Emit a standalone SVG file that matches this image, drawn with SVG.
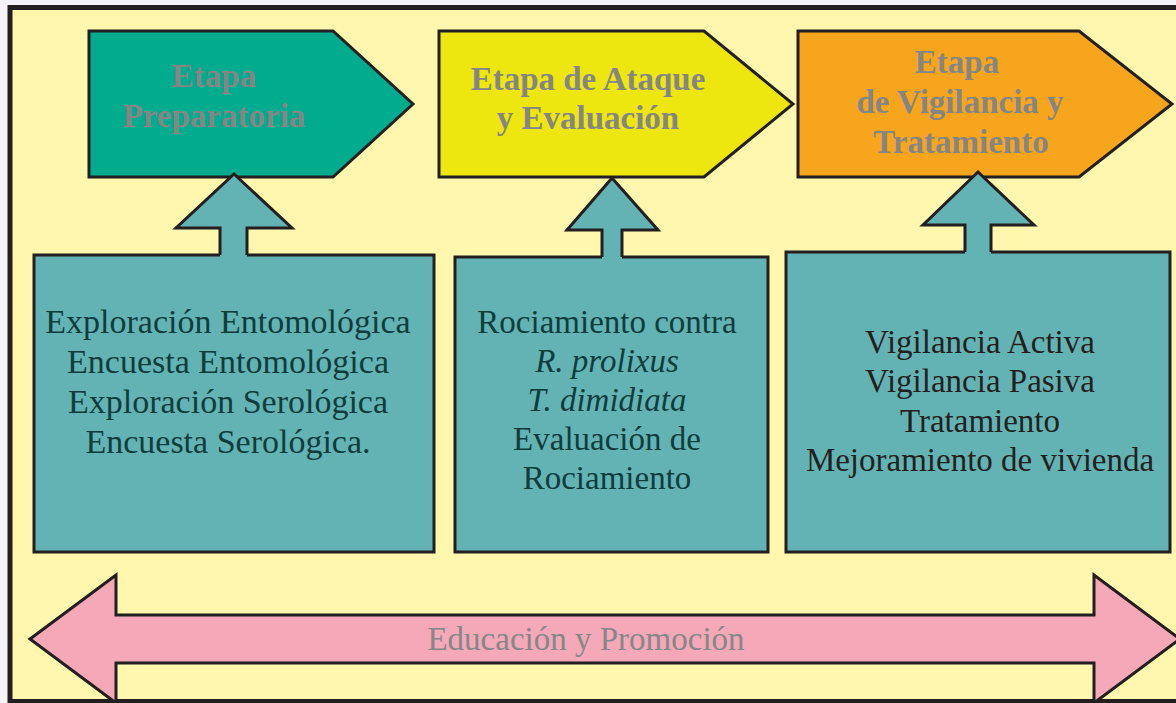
<svg xmlns="http://www.w3.org/2000/svg" width="1176" height="703" viewBox="0 0 1176 703">
<style>
.ln{stroke:#231f20;stroke-width:3;stroke-linejoin:miter}
.title{font-family:"Liberation Serif","Times New Roman",serif;font-weight:bold;font-size:33px;fill:#858585;text-anchor:middle}
.body{font-family:"Liberation Serif","Times New Roman",serif;font-size:33px;fill:#0f3d3c;text-anchor:middle}
.b1{font-size:34px}
.body3{fill:#231f20}
.box{fill:#63b3b5}
</style>
<rect x="0" y="0" width="1176" height="703" fill="#f4f4fa"/>
<rect x="10" y="7.5" width="1180" height="694" fill="#fff7ad" stroke="#231f20" stroke-width="5"/>

<g id="stage1">
<polygon class="ln" fill="#00ab8e" points="89,31 333,31 413,104 333,177 89,177"/>
<text class="title" x="214" y="87">Etapa</text>
<text class="title" x="214" y="127">Preparatoria</text>
</g>
<g id="stage2">
<polygon class="ln" fill="#ede70f" points="439,31 704,31 793,104 704,177 439,177"/>
<text class="title" x="588" y="90">Etapa de Ataque</text>
<text class="title" x="588" y="129">y Evaluación</text>
</g>
<g id="stage3">
<polygon class="ln" fill="#f7a51d" points="798,31 1079,31 1172,104 1079,177 798,177"/>
<text class="title" x="957" y="73">Etapa</text>
<text class="title" x="960" y="113">de Vigilancia y</text>
<text class="title" x="961" y="153">Tratamiento</text>
</g>

<g id="box1">
<rect class="box ln" x="34" y="255" width="400" height="297"/>
<text class="body b1" x="228" y="333">Exploración Entomológica</text>
<text class="body b1" x="228" y="373">Encuesta Entomológica</text>
<text class="body b1" x="228" y="413">Exploración Serológica</text>
<text class="body b1" x="228" y="453">Encuesta Serológica.</text>
</g>
<g id="box2">
<rect class="box ln" x="455" y="257" width="313" height="295"/>
<text class="body" x="607" y="333">Rociamiento contra</text>
<text class="body" x="607" y="372" font-style="italic">R. prolixus</text>
<text class="body" x="607" y="411" font-style="italic">T. dimidiata</text>
<text class="body" x="607" y="450">Evaluación de</text>
<text class="body" x="607" y="489">Rociamiento</text>
</g>
<g id="box3">
<rect class="box ln" x="786" y="252" width="384" height="300"/>
<text class="body body3" x="980" y="353">Vigilancia Activa</text>
<text class="body body3" x="980" y="392">Vigilancia Pasiva</text>
<text class="body body3" x="980" y="432">Tratamiento</text>
<text class="body body3" x="980" y="471">Mejoramiento de vivienda</text>
</g>

<g id="connectors">
<polygon class="box" points="234,174 292,228 247,228 247,258 220,258 220,228 176,228"/>
<polyline class="ln" fill="none" points="220,255 220,228 176,228 234,174 292,228 247,228 247,255"/>
<polygon class="box" points="612,178 658,230 622,230 622,260 602,260 602,230 567,230"/>
<polyline class="ln" fill="none" points="602,257 602,230 567,230 612,178 658,230 622,230 622,257"/>
<polygon class="box" points="978,172 1034,225 991,225 991,255 965,255 965,225 923,225"/>
<polyline class="ln" fill="none" points="965,252 965,225 923,225 978,172 1034,225 991,225 991,252"/>
</g>

<g id="education">
<polygon class="ln" fill="#f4a8b8" points="30,639 116,575 116,615 1094,615 1094,575 1180,639 1094,703 1094,663 116,663 116,703"/>
<text x="586" y="650" font-family="Liberation Serif, Times New Roman, serif" font-size="33" fill="#878787" text-anchor="middle">Educación y Promoción</text>
</g>
</svg>
